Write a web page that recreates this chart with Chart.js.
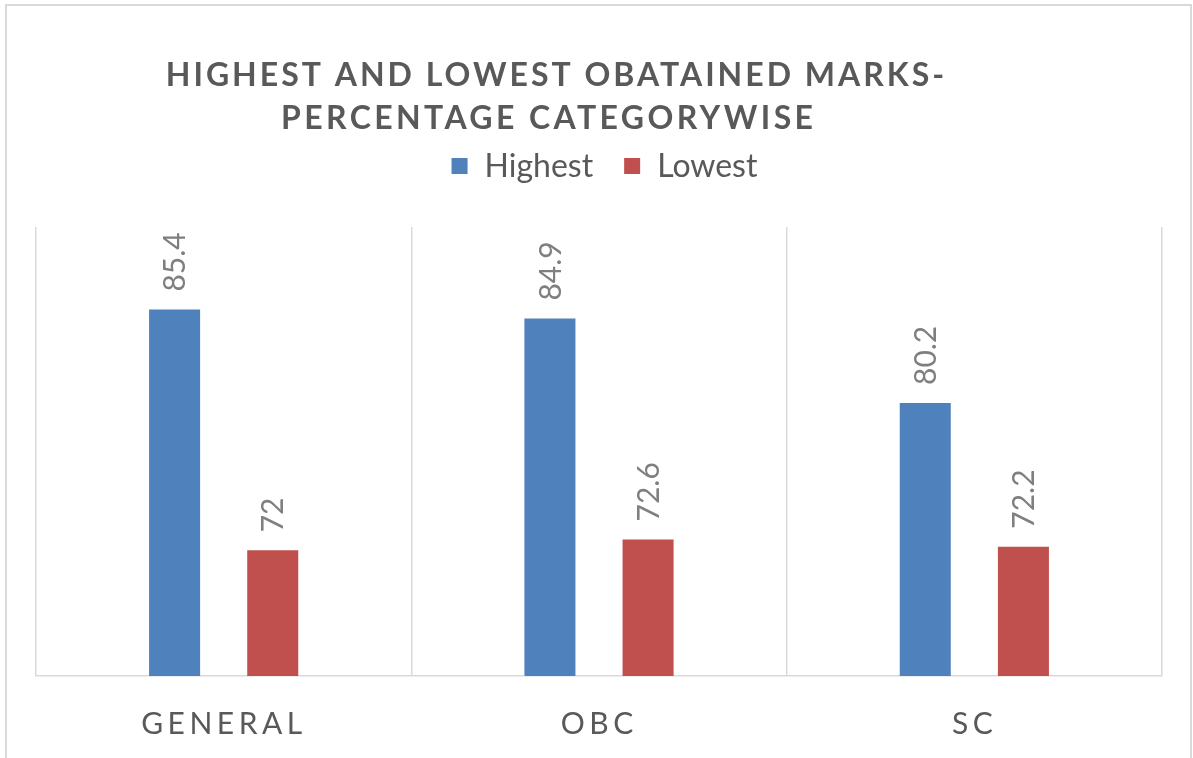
<!DOCTYPE html>
<html>
<head>
<meta charset="utf-8">
<script src="https://cdn.jsdelivr.net/npm/chart.js@4.4.0/dist/chart.umd.min.js"></script>
<style>
  html, body { margin: 0; padding: 0; background: #fff; }
  #wrap { width: 1193px; height: 758px; position: relative; }
</style>
</head>
<body>
<div id="wrap"><canvas id="chart"></canvas></div>
<script>
const categories = ["GENERAL", "OBC", "SC"];
const highestMarks = [85.4, 84.9, 80.2];
const lowestMarks = [72, 72.6, 72.2];
const seriesNames = ["Highest", "Lowest"];
const titleLines = ["HIGHEST AND LOWEST OBATAINED MARKS-", "PERCENTAGE CATEGORYWISE"];

const TEXT = "#595959";
const GRID = "#d9d9d9";
const FONT = "Lato, 'Open Sans', sans-serif";

// draw text with letter spacing, centred on cx
function spacedText(ctx, str, cx, y, spacing) {
  ctx.letterSpacing = spacing + "px";
  const w = ctx.measureText(str).width - spacing;
  ctx.textAlign = "left";
  ctx.fillText(str, cx - w / 2, y);
  ctx.letterSpacing = "0px";
}

const framePlugin = {
  id: "frame",
  beforeDraw(chart) {
    const ctx = chart.ctx;
    ctx.save();
    ctx.fillStyle = "#fff";
    ctx.fillRect(0, 0, chart.width, chart.height);
    ctx.strokeStyle = GRID;
    ctx.lineWidth = 2;
    ctx.strokeRect(6, 5, chart.width - 8, chart.height + 10);
    ctx.restore();
  }
};

const headerPlugin = {
  id: "header",
  afterDraw(chart) {
    const ctx = chart.ctx;
    ctx.save();
    ctx.fillStyle = TEXT;
    ctx.textBaseline = "alphabetic";
    ctx.font = "bold 32px " + FONT;
    spacedText(ctx, titleLines[0], 555, 86, 3);
    spacedText(ctx, titleLines[1], 547, 129, 3.4);

    // legend
    ctx.font = "32px " + FONT;
    ctx.textBaseline = "middle";
    const box = 16, gapText = 17, gapItem = 31;
    const items = chart.data.datasets.map((ds) => ({
      label: ds.label,
      color: ds.backgroundColor,
      w: box + gapText + ctx.measureText(ds.label).width
    }));
    const total = items.reduce((s, it) => s + it.w, 0) + gapItem * (items.length - 1);
    let x = chart.width / 2 + 8 - total / 2;
    const y = 166;
    items.forEach((it) => {
      ctx.fillStyle = it.color;
      ctx.fillRect(x, y - box / 2, box, box);
      ctx.fillStyle = TEXT;
      ctx.textAlign = "left";
      ctx.fillText(it.label, x + box + gapText, y + 1);
      x += it.w + gapItem;
    });

    // category labels
    const xs = chart.scales.x;
    ctx.font = "30px " + FONT;
    ctx.fillStyle = TEXT;
    categories.forEach((c, i) => {
      spacedText(ctx, c, xs.getPixelForValue(i) - 2, chart.chartArea.bottom + 48, 4.5);
    });
    ctx.restore();
  }
};

const barLabelPlugin = {
  id: "barLabels",
  afterDatasetsDraw(chart) {
    const ctx = chart.ctx;
    ctx.save();
    ctx.font = "30px " + FONT;
    ctx.fillStyle = "#7f7f7f";
    chart.data.datasets.forEach((ds, di) => {
      chart.getDatasetMeta(di).data.forEach((bar, i) => {
        ctx.save();
        ctx.translate(bar.x + 1, bar.y - 18);
        ctx.rotate(-Math.PI / 2);
        ctx.textAlign = "left";
        ctx.textBaseline = "middle";
        ctx.fillText(String(ds.data[i]), 0, 0);
        ctx.restore();
      });
    });
    ctx.restore();
  }
};

new Chart(document.getElementById("chart"), {
  type: "bar",
  data: {
    labels: categories,
    datasets: [
      { label: seriesNames[0], data: highestMarks, backgroundColor: "#4f81bd" },
      { label: seriesNames[1], data: lowestMarks, backgroundColor: "#c0504d" }
    ]
  },
  options: {
    responsive: true,
    maintainAspectRatio: false,
    animation: false,
    categoryPercentage: 0.523,
    barPercentage: 0.52,
    layout: { padding: { top: 227, left: 36, right: 31, bottom: 82 } },
    plugins: {
      legend: { display: false },
      title: { display: false },
      tooltip: { enabled: false }
    },
    scales: {
      x: {
        offset: true,
        grid: { color: GRID, lineWidth: 1.5, drawTicks: false, offset: true },
        border: { color: GRID, width: 1.5 },
        ticks: { display: false }
      },
      y: { display: false, min: 65, max: 90 }
    }
  },
  plugins: [framePlugin, headerPlugin, barLabelPlugin]
});
</script>
</body>
</html>
